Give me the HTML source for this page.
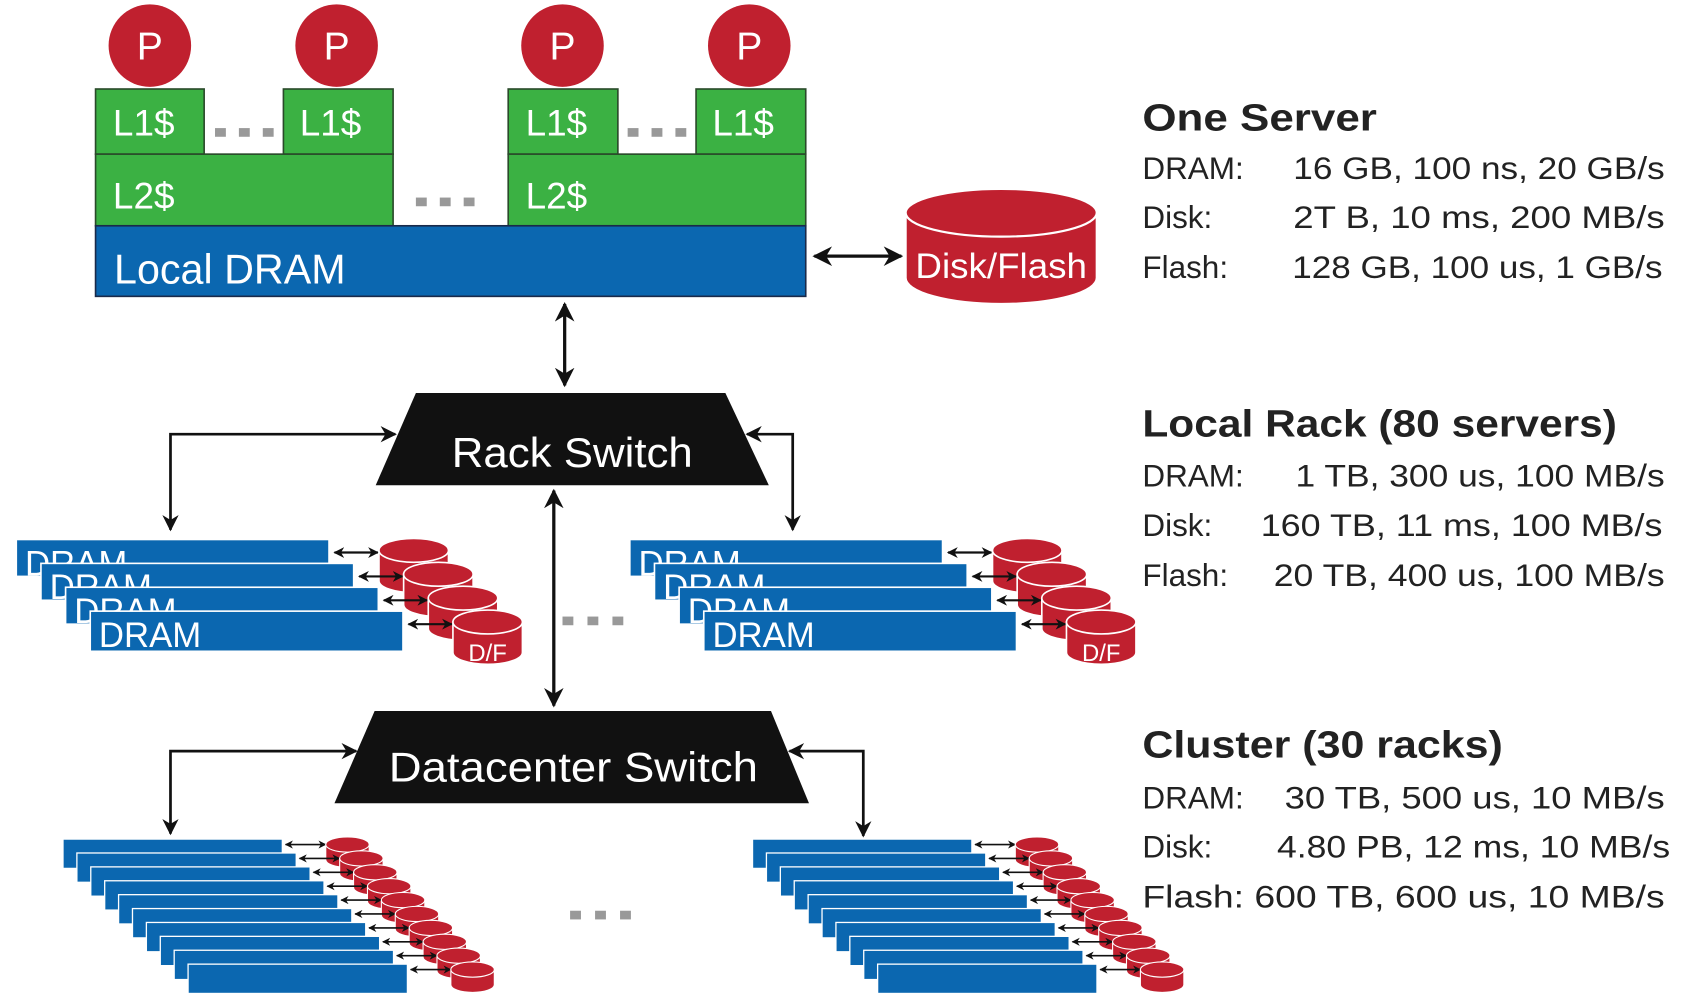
<!DOCTYPE html>
<html><head><meta charset="utf-8"><style>
html,body{margin:0;padding:0;background:#fff;}
svg{display:block;}
text{font-family:"Liberation Sans",sans-serif;}
</style></head><body>
<svg id="s" width="1694" height="1003" viewBox="0 0 1560 924" preserveAspectRatio="none" xmlns="http://www.w3.org/2000/svg">
<defs>
<marker id="ah" viewBox="0 0 10 10" refX="9" refY="5" markerWidth="6" markerHeight="6" orient="auto-start-reverse"><path d="M0,0 L10,5 L0,10 L3,5 z" fill="#111"/></marker>
<marker id="as" viewBox="0 0 10 10" refX="9" refY="5" markerWidth="5" markerHeight="5" orient="auto-start-reverse"><path d="M0,0 L10,5 L0,10 L3,5 z" fill="#111"/></marker>
</defs>
<g fill="#c0202f">
<circle cx="138" cy="42" r="38"/><circle cx="310" cy="42" r="38"/><circle cx="518" cy="42" r="38"/><circle cx="690" cy="42" r="38"/>
</g>
<g fill="#fff" font-size="36" text-anchor="middle">
<text x="138" y="55">P</text><text x="310" y="55">P</text><text x="518" y="55">P</text><text x="690" y="55">P</text>
</g>
<g fill="#3bb143" stroke="#2a4a2a" stroke-width="1.5">
<rect x="88" y="82" width="100" height="60"/><rect x="261" y="82" width="101" height="60"/>
<rect x="468" y="82" width="101" height="60"/><rect x="641" y="82" width="101" height="60"/>
<rect x="88" y="142" width="274" height="66"/><rect x="468" y="142" width="274" height="66"/>
</g>
<g fill="#fff" font-size="34">
<text x="104" y="125">L1$</text><text x="276" y="125">L1$</text><text x="484" y="125">L1$</text><text x="656" y="125">L1$</text>
<text x="104" y="192">L2$</text><text x="484" y="192">L2$</text>
</g>
<g fill="#999">
<rect x="198" y="118" width="10" height="8"/><rect x="220" y="118" width="10" height="8"/><rect x="242" y="118" width="10" height="8"/>
<rect x="578" y="118" width="10" height="8"/><rect x="600" y="118" width="10" height="8"/><rect x="622" y="118" width="10" height="8"/>
<rect x="383" y="182" width="10" height="8"/><rect x="405" y="182" width="10" height="8"/><rect x="427" y="182" width="10" height="8"/>
<rect x="518" y="568" width="10" height="8"/><rect x="541" y="568" width="10" height="8"/><rect x="564" y="568" width="10" height="8"/>
<rect x="525" y="839" width="10" height="8"/><rect x="548" y="839" width="10" height="8"/><rect x="571" y="839" width="10" height="8"/>
</g>
<rect x="88" y="208" width="654" height="65" fill="#0b67b0" stroke="#1a2a4a" stroke-width="1.5"/>
<text x="105" y="261" fill="#fff" font-size="38">Local DRAM</text>
<line x1="750" y1="236" x2="830" y2="236" stroke="#111" stroke-width="3" marker-start="url(#ah)" marker-end="url(#ah)"/>
<g fill="#c0202f" stroke="#fff" stroke-width="2">
<path d="M834,196 L834,256 A88,24 0 0 0 1010,256 L1010,196 Z"/>
<ellipse cx="922" cy="196" rx="88" ry="22"/>
</g>
<text x="922" y="256" fill="#fff" font-size="32" text-anchor="middle" textLength="158" lengthAdjust="spacingAndGlyphs">Disk/Flash</text>
<line x1="520" y1="280" x2="520" y2="355" stroke="#111" stroke-width="3" marker-start="url(#ah)" marker-end="url(#ah)"/>
<polygon points="383,362 668,362 708,447 346,447" fill="#111"/>
<text x="527" y="430" fill="#fff" font-size="38" text-anchor="middle" textLength="222" lengthAdjust="spacingAndGlyphs">Rack Switch</text>
<polyline points="364,400 157,400 157,488" fill="none" stroke="#111" stroke-width="2.5" marker-start="url(#ah)" marker-end="url(#ah)"/>
<polyline points="688,400 730,400 730,488" fill="none" stroke="#111" stroke-width="2.5" marker-start="url(#ah)" marker-end="url(#ah)"/>
<line x1="510" y1="452" x2="510" y2="650" stroke="#111" stroke-width="3" marker-start="url(#ah)" marker-end="url(#ah)"/>
<polygon points="345,655 710,655 745,740 308,740" fill="#111"/>
<text x="528" y="720" fill="#fff" font-size="38" text-anchor="middle" textLength="340" lengthAdjust="spacingAndGlyphs">Datacenter Switch</text>
<polyline points="328,692 157,692 157,768" fill="none" stroke="#111" stroke-width="2.5" marker-start="url(#ah)" marker-end="url(#ah)"/>
<polyline points="727,692 795,692 795,770" fill="none" stroke="#111" stroke-width="2.5" marker-start="url(#ah)" marker-end="url(#ah)"/>
<g id="stacks"></g>
<g fill="#222" font-size="29">
<text x="1052" y="120" font-size="35" font-weight="bold" textLength="216" lengthAdjust="spacingAndGlyphs">One Server</text>
<text x="1052" y="165">DRAM:</text><text x="1533" y="165" text-anchor="end" textLength="342" lengthAdjust="spacingAndGlyphs">16 GB, 100 ns, 20 GB/s</text>
<text x="1052" y="210">Disk:</text><text x="1533" y="210" text-anchor="end" textLength="342" lengthAdjust="spacingAndGlyphs">2T B,  10 ms, 200 MB/s</text>
<text x="1052" y="256">Flash:</text><text x="1531" y="256" text-anchor="end" textLength="341" lengthAdjust="spacingAndGlyphs">128 GB, 100 us, 1 GB/s</text>
<text x="1052" y="402" font-size="35" font-weight="bold" textLength="437" lengthAdjust="spacingAndGlyphs">Local Rack (80 servers)</text>
<text x="1052" y="448">DRAM:</text><text x="1533" y="448" text-anchor="end" textLength="340" lengthAdjust="spacingAndGlyphs">1 TB, 300 us, 100 MB/s</text>
<text x="1052" y="494">Disk:</text><text x="1531" y="494" text-anchor="end" textLength="370" lengthAdjust="spacingAndGlyphs">160 TB, 11 ms, 100 MB/s</text>
<text x="1052" y="540">Flash:</text><text x="1533" y="540" text-anchor="end" textLength="360" lengthAdjust="spacingAndGlyphs">20 TB, 400 us, 100 MB/s</text>
<text x="1052" y="698" font-size="35" font-weight="bold" textLength="332" lengthAdjust="spacingAndGlyphs">Cluster (30 racks)</text>
<text x="1052" y="745">DRAM:</text><text x="1533" y="745" text-anchor="end" textLength="350" lengthAdjust="spacingAndGlyphs">30 TB,  500 us, 10 MB/s</text>
<text x="1052" y="790">Disk:</text><text x="1538" y="790" text-anchor="end" textLength="362" lengthAdjust="spacingAndGlyphs">4.80 PB, 12 ms, 10 MB/s</text>
<text x="1052" y="836" textLength="481" lengthAdjust="spacingAndGlyphs">Flash:  600 TB,   600 us, 10 MB/s</text>
</g>
</svg>
<script>
var g=document.getElementById('stacks'),h='';
function rack(ox){
  for(var i=0;i<4;i++){
    var x=ox+15+i*22.7,y=497+i*22,hh=(i==3?37:34);
    h+='<rect x="'+x+'" y="'+y+'" width="288" height="'+hh+'" fill="#0b67b0" stroke="#fff" stroke-width="1.5"/>';
    h+='<text x="'+(x+8)+'" y="'+(y+33)+'" fill="#fff" font-size="32">DRAM</text>';
    var cx=x+366,cy=y+10;
    h+='<line x1="'+(x+293)+'" y1="'+(y+12)+'" x2="'+(cx-33)+'" y2="'+(y+12)+'" stroke="#111" stroke-width="2" marker-start="url(#as)" marker-end="url(#as)"/>';
    h+='<path d="M'+(cx-32)+','+cy+' L'+(cx-32)+','+(cy+28)+' A32,11 0 0 0 '+(cx+32)+','+(cy+28)+' L'+(cx+32)+','+cy+' Z" fill="#c0202f" stroke="#fff" stroke-width="1.5"/>';
    h+='<ellipse cx="'+cx+'" cy="'+cy+'" rx="32" ry="11" fill="#c0202f" stroke="#fff" stroke-width="1.5"/>';
    if(i==3)h+='<text x="'+cx+'" y="'+(cy+36)+'" fill="#fff" font-size="22" text-anchor="middle">D/F</text>';
  }
}
function cl(ox){
  for(var i=0;i<10;i++){
    var x=ox+58+i*12.8,y=773+i*12.8;
    h+='<rect x="'+x+'" y="'+y+'" width="202" height="27" fill="#0b67b0" stroke="#fff" stroke-width="1.2"/>';
    var cx=x+262,cy=y+5;
    h+='<line x1="'+(x+205)+'" y1="'+(y+5)+'" x2="'+(cx-20)+'" y2="'+(y+5)+'" stroke="#111" stroke-width="1.5" marker-start="url(#as)" marker-end="url(#as)"/>';
    h+='<path d="M'+(cx-20)+','+cy+' L'+(cx-20)+','+(cy+14)+' A20,7 0 0 0 '+(cx+20)+','+(cy+14)+' L'+(cx+20)+','+cy+' Z" fill="#c0202f" stroke="#fff" stroke-width="1"/>';
    h+='<ellipse cx="'+cx+'" cy="'+cy+'" rx="20" ry="7" fill="#c0202f" stroke="#fff" stroke-width="1"/>';
  }
}
rack(0);rack(565);cl(0);cl(635);
g.innerHTML=h;
</script>
</body></html>
